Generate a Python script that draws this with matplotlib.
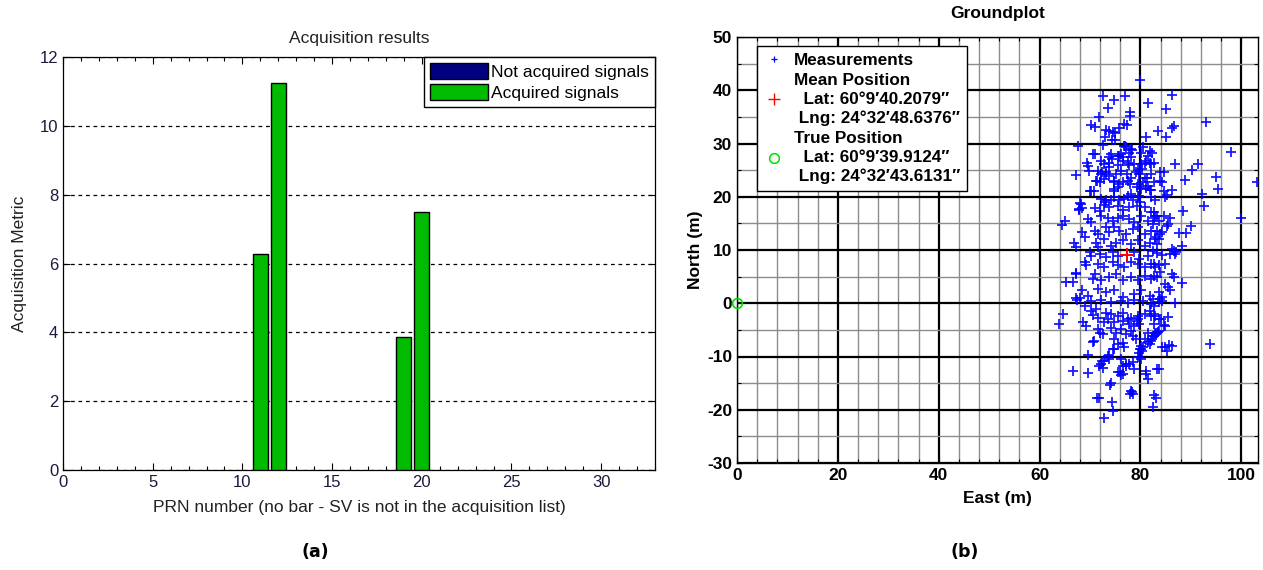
import matplotlib
matplotlib.use('Agg')
import matplotlib.pyplot as plt
from matplotlib.patches import Patch
from matplotlib.lines import Line2D
from matplotlib.ticker import MultipleLocator

plt.rcParams['font.family'] = ['Liberation Sans', 'DejaVu Sans']
plt.rcParams['axes.unicode_minus'] = False

# ---------------- data: acquisition results ----------------
acq_prn = [11, 12, 19, 20]
acq_metric = [6.28, 11.25, 3.85, 7.5]
legend_acq = ['Not acquired signals', 'Acquired signals']

# ---------------- data: groundplot (east, north) in metres ----------------
meas_sparse = [
    (80.0, 42.0), (72.6, 38.9), (74.8, 38.2), (77.0, 38.9), (86.3, 39.1), (81.4, 37.6), (73.6, 36.6),
    (85.0, 36.5), (78.0, 36.0), (77.9, 35.2), (71.8, 34.9), (92.9, 34.0), (70.1, 33.5), (70.9, 33.1),
    (76.8, 33.6), (77.4, 33.5), (86.6, 33.2), (86.3, 32.9), (73.1, 32.6), (83.5, 32.3), (75.0, 32.0),
    (73.0, 31.3), (81.0, 31.3), (85.0, 31.2), (74.4, 30.6), (75.0, 30.6), (72.6, 29.8), (67.7, 29.6),
    (77.0, 29.6), (80.4, 29.4), (78.3, 28.7), (81.9, 28.6), (98.0, 28.4), (82.2, 28.2), (70.5, 28.0),
    (75.7, 27.6), (76.5, 27.4), (74.3, 27.1), (81.0, 26.8), (69.3, 26.4), (75.5, 26.0), (77.7, 26.0),
    (86.9, 26.1), (91.5, 26.2), (82.0, 26.1), (73.7, 25.5), (80.3, 25.2), (79.6, 25.1), (90.3, 25.0),
    (69.7, 24.8), (72.3, 24.6), (73.1, 24.2), (84.7, 24.6), (67.3, 24.0), (77.4, 24.3), (94.9, 23.8),
    (71.4, 23.0), (81.3, 23.5), (88.8, 23.1), (103.1, 22.8), (74.7, 22.7), (78.0, 22.4), (84.3, 22.7),
    (95.3, 21.5), (86.3, 21.3), (82.1, 21.3), (69.9, 21.0), (74.7, 21.0), (92.2, 20.5), (79.7, 20.2),
    (84.8, 19.9), (73.0, 19.1), (68.3, 18.6), (92.5, 18.3), (88.4, 17.4), (67.8, 17.5), (100.0, 16.0),
    (64.5, 14.7), (65.1, 15.5), (90.1, 14.6), (87.7, 13.2), (89.0, 13.1), (88.2, 10.8), (66.9, 11.4),
    (87.1, 9.7), (67.2, 5.6), (65.3, 3.9), (66.7, 3.9), (88.3, 3.8), (67.3, 0.9), (68.0, 0.9),
    (86.9, 0.1), (64.7, -2.1), (63.9, -3.9), (68.7, -3.6), (69.2, -4.2), (93.7, -7.6), (85.6, -7.9),
    (69.6, -9.7), (66.7, -12.8), (69.6, -13.1), (83.2, -12.3), (83.7, -12.4), (74.1, -15.0), (74.0, -15.4),
    (78.0, -17.1), (78.3, -16.7), (82.7, -17.3), (83.1, -17.8), (71.3, -17.8), (71.8, -17.7), (74.3, -18.6),
    (74.6, -20.3), (82.4, -19.5), (72.7, -21.5), (81.1, -13.3), (76.6, -13.3), (76.0, -12.9), (77.2, -11.7),
    (78.6, -11.1), (79.6, -10.1), (79.9, -8.6), (80.2, -10.4), (71.7, -11.7), (72.3, -10.8), (73.7, -9.8),
    (74.7, -8.6), (70.8, -7.0), (70.6, -7.3), (81.5, -7.3), (82.3, -6.7), (83.0, -5.8), (83.5, -5.4),
    (84.1, -2.9), (84.7, -4.1), (84.3, -8.3),
]
meas_upper = [
    (71.0, 28.0), (69.5, 25.8), (73.8, 32.4), (74.5, 32.1), (75.8, 33.0), (76.8, 29.6), (77.2, 29.25),
    (78.1, 28.9), (77.8, 28.3), (74.2, 28.0), (73.8, 27.4), (75.5, 27.7), (76.2, 28.0), (72.2, 26.75),
    (72.8, 26.1), (73.8, 26.4), (76.5, 26.75), (77.5, 26.4), (78.1, 27.4), (78.8, 26.1), (80.1, 28.3),
    (81.5, 27.7), (81.8, 26.4), (80.1, 26.1), (80.8, 26.4), (71.5, 24.9), (72.2, 24.25), (73.2, 24.6),
    (73.8, 23.9), (75.2, 24.25), (76.2, 24.9), (78.1, 23.6), (79.1, 24.6), (79.8, 24.25), (80.8, 23.6),
    (82.1, 24.25), (71.2, 23.0), (71.9, 22.7), (72.8, 23.3), (74.8, 23.0), (75.8, 22.4), (76.5, 22.7),
    (77.5, 23.0), (79.5, 22.4), (80.5, 22.7), (81.5, 22.1), (82.6, 26.25), (83.9, 24.6), (82.6, 22.7),
    (83.9, 22.9),
]
meas_core = [
    (70.1, 21.1), (70.7, 21.1), (74.7, 21.4), (75.5, 21.8), (79.3, 21.9), (80.1, 21.4), (81.1, 21.6),
    (81.8, 21.3), (78.1, 20.6), (79.6, 20.2), (77.5, 20.2), (82.1, 19.9), (72.2, 19.6), (73.2, 19.4),
    (74.2, 19.3), (74.8, 19.9), (75.8, 19.3), (76.7, 19.6), (78.5, 19.4), (80.0, 19.1), (68.1, 18.8),
    (68.5, 17.9), (67.9, 17.7), (70.9, 17.9), (71.9, 17.4), (72.8, 18.5), (73.8, 18.0), (75.5, 18.3),
    (76.5, 17.5), (77.8, 18.0), (79.3, 18.3), (80.8, 18.0), (82.0, 17.1), (82.8, 16.4), (69.5, 15.8),
    (70.2, 15.2), (72.2, 16.4), (73.5, 16.1), (74.5, 15.5), (75.5, 16.1), (76.5, 16.4), (77.8, 15.8),
    (78.8, 15.2), (80.1, 16.4), (81.5, 15.5), (82.5, 14.9), (68.5, 13.3), (68.9, 12.4), (70.9, 13.6),
    (71.5, 13.0), (73.2, 14.3), (73.8, 13.3), (74.8, 14.3), (75.8, 13.6), (77.2, 13.0), (78.5, 13.9),
    (79.5, 14.3), (80.8, 13.0), (82.1, 13.6), (67.2, 10.5), (71.2, 11.4), (71.5, 10.5), (72.8, 12.1),
    (74.2, 10.8), (75.2, 11.4), (76.5, 11.8), (78.1, 11.1), (79.5, 11.8), (80.8, 10.8), (81.8, 11.4),
    (82.8, 12.1), (69.9, 9.6), (70.2, 8.9), (71.9, 9.3), (73.2, 8.6), (74.5, 9.6), (75.5, 8.9),
    (78.8, 9.6), (79.8, 8.3), (81.5, 8.9), (82.5, 9.9), (68.9, 7.7), (69.2, 7.1), (71.5, 7.4),
    (72.8, 6.8), (74.5, 7.7), (75.5, 7.1), (76.8, 6.8), (78.1, 7.7), (79.5, 7.4), (80.8, 6.8),
    (82.1, 7.4), (67.2, 5.5), (70.5, 4.6), (70.9, 5.5), (72.2, 4.3), (73.8, 4.9), (75.2, 5.5),
    (76.5, 4.3), (78.1, 4.9), (79.5, 4.3), (80.8, 5.2), (82.1, 4.6), (68.5, 2.4), (69.5, 1.4),
    (71.5, 2.7), (73.2, 2.1), (74.8, 2.4), (76.5, 1.1), (78.8, 1.8), (80.1, 2.4), (81.8, 1.4),
    (82.5, 0.8),
    (84.6, 21.0), (85.2, 20.3), (82.9, 19.3), (82.6, 17.1), (83.2, 16.4), (82.6, 16.1), (84.6, 16.4),
    (85.9, 16.1), (83.6, 15.5), (85.2, 14.6), (85.5, 14.9), (83.2, 13.6), (83.9, 13.0), (84.2, 13.3),
    (82.9, 12.4), (83.6, 12.1), (83.2, 11.1), (86.2, 10.2), (86.6, 9.9), (86.9, 9.3), (85.9, 9.3),
    (83.2, 9.4), (84.2, 9.1), (82.6, 7.4), (82.9, 6.8), (83.6, 7.1), (84.9, 7.4), (83.9, 5.8),
    (82.6, 5.2), (83.2, 4.9), (86.2, 5.5), (86.6, 4.9), (84.9, 3.6), (85.5, 3.0), (85.9, 2.4),
    (83.6, 2.1), (84.2, 1.1), (83.9, 0.8),
]
meas_lower = [
    (67.5, 0.6), (70.2, 0.4), (72.2, 0.6), (74.2, 0.25), (76.2, 0.4), (77.5, 0.1), (78.8, 0.6),
    (80.5, 0.4), (82.1, -0.2), (70.2, -1.4), (70.5, -2.3), (71.5, -2.7), (72.8, -3.6), (73.5, -3.0),
    (74.2, -2.1), (75.5, -2.4), (76.5, -1.8), (78.1, -2.7), (79.3, -3.3), (79.6, -2.4), (80.8, -2.1),
    (81.8, -1.4), (82.1, -2.4), (71.5, -4.9), (71.9, -5.5), (72.5, -5.8), (74.2, -4.6), (75.2, -5.5),
    (76.2, -4.9), (77.2, -5.8), (78.1, -5.2), (78.5, -6.1), (74.8, -6.75), (75.5, -7.7), (76.5, -7.4),
    (74.5, -8.6), (76.8, -8.3), (80.1, -8.6), (79.8, -9.25), (80.5, -8.3), (82.1, -7.1), (81.8, -7.7),
    (73.5, -9.9), (73.8, -10.5), (72.8, -10.8), (72.2, -11.4), (72.5, -12.1), (76.2, -10.5), (76.5, -11.75),
    (77.2, -11.4), (77.8, -11.4), (78.8, -12.4), (75.5, -13.0), (76.2, -13.5), (81.1, -12.7), (81.5, -14.25),
    (78.1, -16.4), (78.5, -17.1), (79.5, -3.0), (79.8, -3.9), (78.8, -4.25), (77.5, -3.0), (77.8, -3.9),
    (76.5, -3.3), (74.8, -3.6), (73.2, -1.75), (71.2, -1.1), (68.9, -0.5), (80.1, -8.0), (80.3, -8.9),
    (80.9, -6.75), (79.1, -6.75), (81.5, -5.5), (82.5, -6.1), (82.8, -5.5),
    (83.6, 0.25), (84.2, 0.4), (82.6, -0.5), (82.6, -2.1), (82.9, -2.4), (85.4, -2.5), (83.6, -3.0),
    (84.9, -4.25), (82.6, -3.9), (83.2, -5.5), (83.6, -5.2), (82.6, -6.1), (84.9, -8.3), (85.2, -8.9),
    (86.2, -8.0),
]
mean_position = (77.4, 9.1)
true_position = (0.0, 0.0)
mean_label = 'Mean Position\n  Lat: 60\u00b09\u203240.2079\u2033\n Lng: 24\u00b032\u203248.6376\u2033'
true_label = 'True Position\n  Lat: 60\u00b09\u203239.9124\u2033\n Lng: 24\u00b032\u203243.6131\u2033'

# ---------------- figure ----------------
fig = plt.figure(figsize=(12.63, 5.70), dpi=100)

# ---- left: acquisition results ----
axL = fig.add_axes([63 / 1263, 1 - 470 / 570, 592 / 1263, 413 / 570])
green = '#00BB00'
navy = '#000080'
axL.bar(acq_prn, acq_metric, width=0.85, color=green, edgecolor='black', linewidth=1.0, zorder=3)
axL.set_xlim(0, 33)
axL.set_ylim(0, 12)
axL.xaxis.set_major_locator(MultipleLocator(5))
axL.xaxis.set_minor_locator(MultipleLocator(1))
axL.yaxis.set_major_locator(MultipleLocator(2))
axL.grid(axis='y', which='major', linestyle=(0, (3, 3)), color='black', linewidth=0.9, zorder=1)
axL.tick_params(which='both', direction='in', top=True, right=True, labelsize=12,
                labelcolor='#1a1a3a', width=0.8)
axL.tick_params(which='major', length=5)
axL.tick_params(which='minor', length=3)
axL.set_title('Acquisition results', fontsize=12.5, color='#222222', pad=10)
axL.set_xlabel('PRN number (no bar - SV is not in the acquisition list)', fontsize=12.5,
               color='#222222', labelpad=7)
axL.set_ylabel('Acquisition Metric', fontsize=12.5, color='#222222', labelpad=9)
for s in axL.spines.values():
    s.set_linewidth(0.9)
handles = [Patch(facecolor=navy, edgecolor='black', label=legend_acq[0]),
           Patch(facecolor=green, edgecolor='black', label=legend_acq[1])]
legL = axL.legend(handles=handles, loc='upper right', borderaxespad=0, fontsize=12.5,
                  handlelength=3.3, handleheight=1.05, handletextpad=0.2, labelspacing=0.25,
                  fancybox=False, framealpha=1, edgecolor='black', borderpad=0.35)
legL.get_frame().set_linewidth(1.0)

# ---- right: groundplot ----
axR = fig.add_axes([737 / 1263, 1 - 463 / 570, 521 / 1263, 426 / 570])
axR.set_xlim(0, 103.3)
axR.set_ylim(-30, 50)
axR.xaxis.set_major_locator(MultipleLocator(20))
axR.xaxis.set_minor_locator(MultipleLocator(4))
axR.yaxis.set_major_locator(MultipleLocator(10))
axR.yaxis.set_minor_locator(MultipleLocator(5))
axR.grid(which='minor', color='#8c8c8c', linewidth=1.0, zorder=0)
axR.grid(which='major', color='black', linewidth=1.6, zorder=0)
axR.set_axisbelow(True)
axR.tick_params(which='both', direction='in', top=True, right=True, labelsize=12.5, width=0.8)
axR.tick_params(which='major', length=4)
axR.tick_params(which='minor', length=3)
for lab in axR.get_xticklabels() + axR.get_yticklabels():
    lab.set_fontweight('bold')
for s in axR.spines.values():
    s.set_linewidth(1.0)

pts = meas_sparse + meas_upper + meas_core + meas_lower
east = [p[0] for p in pts]
north = [p[1] for p in pts]
axR.plot(east, north, linestyle='none', marker='+', color='#0000ff', markersize=7, mew=1.3,
         alpha=0.9, zorder=3, clip_on=True)
axR.plot([mean_position[0]], [mean_position[1]], linestyle='none', marker='+', color='red',
         markersize=10, mew=1.4, zorder=4)
axR.plot([true_position[0]], [true_position[1]], linestyle='none', marker='o', mfc='none',
         mec='#00dd00', markersize=7, mew=1.2, zorder=4, clip_on=False)

axR.set_title('Groundplot', fontsize=12.5, fontweight='bold', pad=14)
axR.set_xlabel('East (m)', fontsize=12.5, fontweight='bold', labelpad=6)
axR.set_ylabel('North (m)', fontsize=12.5, fontweight='bold', labelpad=3)

h_meas = Line2D([], [], linestyle='none', marker='+', color='#0000ff', markersize=5, mew=0.9)
h_mean = Line2D([], [], linestyle='none', marker='+', color='red', markersize=8, mew=1.0)
h_true = Line2D([], [], linestyle='none', marker='o', mfc='none', mec='#00dd00', markersize=7, mew=1.1)
legR = axR.legend([h_meas, h_mean, h_true], ['Measurements', mean_label, true_label],
                  loc='upper left', bbox_to_anchor=(20 / 521, 1 - 9 / 426), borderaxespad=0,
                  prop={'weight': 'bold', 'size': 12.3}, fancybox=False, framealpha=1,
                  edgecolor='black', handlelength=1.2, handletextpad=0.55, labelspacing=0.3,
                  borderpad=0.4)
for t in legR.get_texts():
    t.set_linespacing(1.3)
legR.get_frame().set_linewidth(1.0)

# ---- captions ----
fig.text(315 / 1263, 1 - 552 / 570, '(a)', ha='center', va='center', fontsize=12.5,
         fontweight='bold', family=['DejaVu Sans'])
fig.text(965 / 1263, 1 - 552 / 570, '(b)', ha='center', va='center', fontsize=12.5,
         fontweight='bold', family=['DejaVu Sans'])

fig.savefig('out.png', dpi=100)
